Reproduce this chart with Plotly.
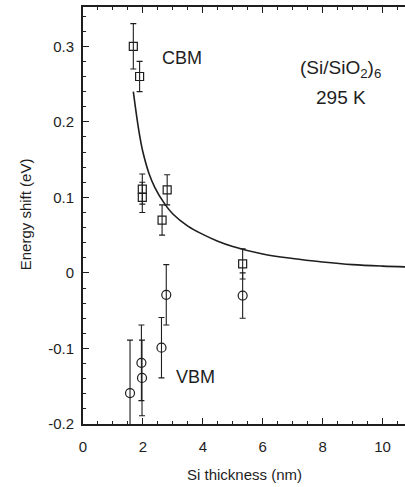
import plotly.graph_objects as go

# CBM data (squares)
cbm_x = [1.68, 1.89, 1.98, 1.98, 2.64, 2.81, 5.33]
cbm_y = [0.300, 0.260, 0.111, 0.100, 0.070, 0.110, 0.012]
cbm_err = [0.030, 0.020, 0.020, 0.020, 0.020, 0.020, 0.020]

# VBM data (circles)
vbm_x = [1.57, 1.95, 1.97, 2.62, 2.78, 5.33]
vbm_y = [-0.159, -0.119, -0.139, -0.099, -0.029, -0.030]
vbm_err = [0.070, 0.050, 0.050, 0.040, 0.040, 0.030]

# Fit curve
fit_x = [1.68, 1.8, 1.9, 2.0, 2.2, 2.4, 2.7, 3.0, 3.5, 4.0, 4.5, 5.0, 6.0, 7.0, 8.0, 9.0, 10.0, 10.75]
fit_y = [0.240, 0.205, 0.180, 0.160, 0.132, 0.113, 0.093, 0.078, 0.062, 0.051, 0.042, 0.035, 0.025, 0.019, 0.0145, 0.011, 0.009, 0.008]

x_ticks = [0, 2, 4, 6, 8, 10]
x_ticktext = ["0", "2", "4", "6", "8", "10"]
y_ticks = [-0.2, -0.1, 0, 0.1, 0.2, 0.3]
y_ticktext = ["-0.2", "-0.1", "0", "0.1", "0.2", "0.3"]

ink = "#1e1e1e"
font = "Liberation Sans, Arial, sans-serif"

fig = go.Figure()
fig.add_trace(go.Scatter(x=fit_x, y=fit_y, mode="lines",
                         line=dict(color=ink, width=1.6, shape="spline", smoothing=1.0),
                         hoverinfo="skip", showlegend=False))
fig.add_trace(go.Scatter(x=cbm_x, y=cbm_y, mode="markers",
                         marker=dict(symbol="square-open", size=8, color=ink, line=dict(width=1.2)),
                         error_y=dict(type="data", array=cbm_err, color=ink, thickness=1.1, width=3),
                         showlegend=False))
fig.add_trace(go.Scatter(x=vbm_x, y=vbm_y, mode="markers",
                         marker=dict(symbol="circle-open", size=9, color=ink, line=dict(width=1.2)),
                         error_y=dict(type="data", array=vbm_err, color=ink, thickness=1.1, width=3),
                         showlegend=False))

axis_common = dict(showline=True, linecolor=ink, linewidth=1.8, showgrid=False, zeroline=False,
                   ticks="inside", tickcolor=ink, tickwidth=1, ticklen=6,
                   tickfont=dict(family=font, size=15, color=ink))

fig.update_xaxes(range=[0, 10.75], tickvals=x_ticks, ticktext=x_ticktext, mirror="ticks",
                 minor=dict(dtick=0.5, ticks="inside", ticklen=3, tickcolor=ink, tickwidth=1),
                 ticklabelstandoff=8, **axis_common)
fig.update_yaxes(range=[-0.2, 0.352], tickvals=y_ticks, ticktext=y_ticktext, mirror=False,
                 minor=dict(dtick=0.02, ticks="inside", ticklen=3, tickcolor=ink, tickwidth=1),
                 ticklabelstandoff=4, **axis_common)

fig.add_annotation(x=0.5, y=0, xref="paper", yref="paper", yshift=-50, showarrow=False,
                   text="Si thickness (nm)", font=dict(family=font, size=15, color=ink),
                   xanchor="center", yanchor="middle")
fig.add_annotation(x=0, y=0.503, xref="paper", yref="paper", xshift=-58, showarrow=False,
                   text="Energy shift (eV)", textangle=-90, font=dict(family=font, size=15, color=ink),
                   xanchor="center", yanchor="middle")
fig.add_annotation(x=3.32, y=0.284, showarrow=False, text="CBM",
                   font=dict(family=font, size=18, color=ink), xanchor="center", yanchor="middle")
fig.add_annotation(x=3.77, y=-0.138, showarrow=False, text="VBM",
                   font=dict(family=font, size=18, color=ink), xanchor="center", yanchor="middle")
fig.add_annotation(x=8.6, y=0.270, showarrow=False, text="(Si/SiO<sub>2</sub>)<sub>6</sub>",
                   font=dict(family=font, size=19, color=ink), xanchor="center", yanchor="middle")
fig.add_annotation(x=8.6, y=0.232, showarrow=False, text="295 K",
                   font=dict(family=font, size=19, color=ink), xanchor="center", yanchor="middle")

fig.update_layout(width=405, height=487, margin=dict(l=83, r=0, t=7, b=63),
                  paper_bgcolor="white", plot_bgcolor="white")

fig.write_html("out.html")
